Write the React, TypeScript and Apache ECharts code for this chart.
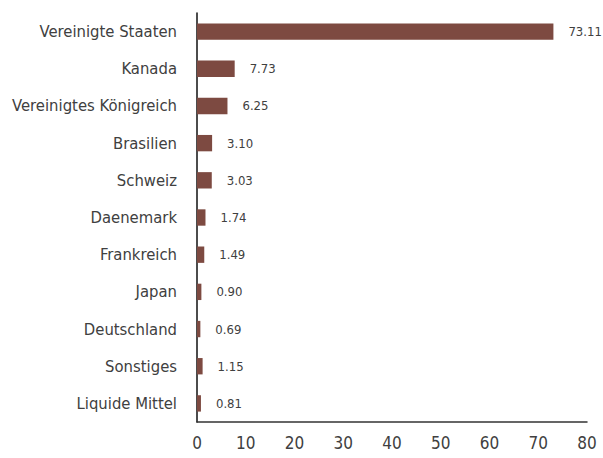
import React, { useEffect, useRef } from "react";
import * as echarts from "echarts";

const categories = [
  "Vereinigte Staaten",
  "Kanada",
  "Vereinigtes Königreich",
  "Brasilien",
  "Schweiz",
  "Daenemark",
  "Frankreich",
  "Japan",
  "Deutschland",
  "Sonstiges",
  "Liquide Mittel",
];
const values = [73.11, 7.73, 6.25, 3.1, 3.03, 1.74, 1.49, 0.9, 0.69, 1.15, 0.81];

const FONT = "'DejaVu Sans Condensed', 'Liberation Sans Narrow', 'Roboto', sans-serif";

export default function App() {
  const ref = useRef<HTMLDivElement>(null);
  useEffect(() => {
    const chart = echarts.init(ref.current!, null, { renderer: "svg" });
    chart.setOption({
      animation: false,
      grid: { left: 197, right: 16, top: 13, bottom: 36, containLabel: false },
      xAxis: {
        type: "value",
        min: 0,
        max: 80,
        interval: 10,
        axisLine: { show: true, lineStyle: { color: "#333", width: 1.5 } },
        axisTick: { show: false },
        splitLine: { show: false },
        axisLabel: { color: "#404040", fontSize: 17, fontFamily: FONT, margin: 12 },
      },
      yAxis: {
        type: "category",
        inverse: true,
        data: categories,
        axisLine: { show: true, lineStyle: { color: "#111", width: 1.5 } },
        axisTick: { show: false },
        axisLabel: { color: "#404040", fontSize: 16.5, fontFamily: FONT, margin: 20 },
      },
      series: [
        {
          type: "bar",
          data: values,
          barCategoryGap: "56%",
          itemStyle: { color: "#7d4a41" },
          label: {
            show: true,
            position: "right",
            distance: 15,
            color: "#404040",
            fontSize: 13,
            fontFamily: FONT,
            formatter: (p: any) => Number(p.value).toFixed(2),
          },
        },
      ],
    });
    return () => chart.dispose();
  }, []);
  return <div ref={ref} style={{ width: 603, height: 458, position: "absolute", left: 0, top: 0 }} />;
}
